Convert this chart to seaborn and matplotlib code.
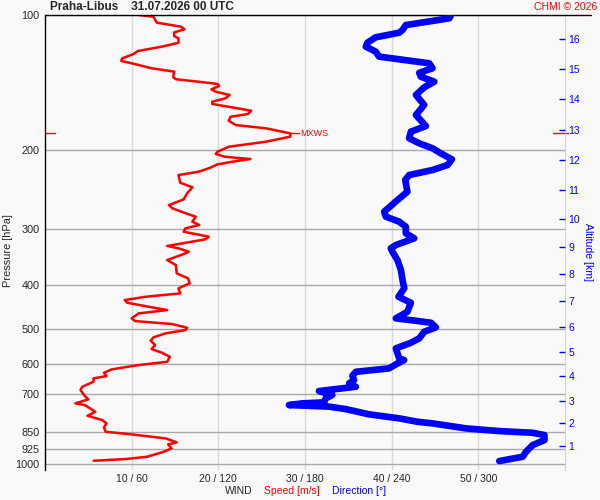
import matplotlib
matplotlib.use("Agg")
import matplotlib.pyplot as plt
from matplotlib.ticker import NullLocator, NullFormatter
import numpy as np
import seaborn as sns

# wind speed profile: pressure [hPa] and speed [m/s]
speed_pres = [100, 100.9, 104.0, 106.2, 107.6, 109.3, 111.4, 112.7, 115.3, 117.6,
              120.3, 122.2, 124.9, 126.6, 128.1, 131.4, 133.7, 137.6, 139.0, 140.8,
              142.4, 143.9, 146.4, 148.2, 150.7, 153.3, 156.0, 157.8, 160.6, 163.4,
              166.2, 168.5, 172.0, 175.8, 178.8, 183.5, 186.6, 191.5, 196.5, 201.6,
              204.0, 206.9, 209.3, 212.2, 215.1, 219.5, 223.4, 227.2, 236.3, 242.0,
              249.5, 257.4, 265.0, 269.5, 278.9, 281.3, 288.6, 293.5, 298.6, 303.8,
              311.7, 315.9, 326.9, 330.8, 336.6, 340.6, 351.3, 360.5, 376.1, 385.9,
              395.9, 406.2, 416.8, 424.1, 431.4, 437.4, 446.5, 454.1, 461.8, 473.8,
              480.4, 487.9, 497.2, 503.1, 511.7, 522.3, 531.5, 543.3, 554.6, 565.2,
              576.9, 591.9, 602.0, 615.4, 626.3, 636.8, 644.4, 655.6, 672.7, 684.2,
              705.6, 717.7, 732.6, 739.0, 764.8, 780.7, 798.1, 811.8, 828.6, 847.5,
              858.9, 876.7, 894.9, 904.1, 922.8, 939.0, 963.3, 974.7, 983.2]
speed = [10.8, 12.5, 12.9, 15.7, 16.1, 14.9, 14.9, 15.4, 15.4, 13.5,
         10.7, 10.2, 8.9, 8.8, 10.0, 12.3, 14.9, 14.8, 15.1, 17.7,
         19.9, 20.1, 19.2, 19.7, 21.3, 20.8, 19.3, 19.3, 21.6, 23.8,
         23.4, 21.4, 21.2, 22.0, 25.5, 28.3, 28.3, 25.5, 21.2, 19.9,
         19.7, 20.8, 23.7, 21.6, 19.9, 18.9, 17.7, 15.4, 15.6, 17.0,
         16.4, 16.0, 14.3, 14.7, 16.8, 17.4, 17.0, 17.8, 16.2, 16.0,
         18.9, 18.5, 14.1, 15.4, 16.6, 16.0, 14.1, 15.1, 15.2, 16.5,
         16.7, 15.4, 15.6, 11.6, 9.2, 9.5, 12.0, 14.1, 10.8, 10.0,
         10.4, 14.7, 16.4, 16.2, 13.9, 12.5, 12.2, 12.7, 12.3, 13.5,
         14.4, 14.1, 10.8, 7.7, 6.8, 7.1, 5.6, 5.6, 4.3, 4.1,
         4.6, 5.0, 3.5, 4.6, 5.8, 4.9, 6.6, 7.1, 6.8, 7.0,
         10.0, 13.9, 15.2, 14.2, 14.6, 13.7, 11.8, 9.3, 5.6]

# wind direction profile: pressure [hPa] and direction [deg]
dir_pres = [100, 101.7, 105.3, 108.0, 109.5, 112.1, 115.3, 117.6, 120.7, 123.8,
            125.5, 128.1, 131.4, 134.5, 137.2, 140.8, 144.9, 150.7, 158.6, 167.0,
            176.7, 181.9, 188.2, 193.1, 198.1, 203.3, 209.6, 215.8, 221.4, 227.2,
            233.1, 247.5, 258.3, 274.2, 281.3, 288.6, 296.1, 306.3, 314.3, 325.3,
            330.8, 336.6, 351.3, 369.8, 389.3, 406.2, 424.1, 437.4, 458.0, 473.8,
            479.7, 484.6, 496.2, 507.5, 524.9, 536.9, 552.6, 581.7, 586.8, 599.8,
            612.3, 623.1, 636.0, 650.1, 661.3, 672.7, 687.8, 702.0, 714.0, 728.9,
            732.6, 739.0, 744.9, 754.5, 775.1, 791.2, 805.2, 811.8, 832.9, 844.5,
            851.9, 862.0, 884.4, 907.4, 939.0, 963.3, 984.7]
direction = [281.1, 279.9, 249.8, 247.5, 245.2, 229.0, 223.2, 222.1, 229.0, 231.3,
             245.2, 266.0, 268.3, 259.1, 260.2, 269.5, 262.5, 256.8, 262.5, 256.8,
             263.7, 253.3, 252.1, 259.1, 268.3, 274.1, 281.7, 278.7, 268.3, 252.1,
             249.4, 250.9, 244.0, 234.8, 236.0, 245.2, 249.8, 249.8, 255.6, 242.9,
             239.4, 240.5, 244.0, 246.4, 247.5, 248.7, 244.7, 253.3, 250.9, 242.9,
             256.8, 267.2, 270.6, 262.5, 259.1, 253.3, 242.9, 245.2, 248.6, 242.9,
             238.2, 215.2, 212.8, 214.0, 210.5, 215.2, 189.7, 198.9, 194.3, 193.2,
             178.1, 168.9, 196.6, 208.2, 224.4, 245.2, 257.9, 268.3, 291.4, 314.5,
             337.6, 345.8, 345.8, 337.6, 333.0, 330.7, 314.5]

# altitude scale on the right: km and the pressure level where it sits
alt_km = [1, 2, 3, 4, 5, 6, 7, 8, 9, 10, 11, 12, 13, 14, 15, 16]
alt_pres = [912, 812, 723, 638, 564, 494, 434, 378, 329, 284, 245, 210, 180, 154, 132, 113]

p_ticks = [100, 200, 300, 400, 500, 600, 700, 850, 925, 1000]
x_ticks = [10, 20, 30, 40, 50]
x_labels = ["10 / 60", "20 / 120", "30 / 180", "40 / 240", "50 / 300"]

BG = "#f9f9f9"
RED = "#ff0000"
BLUE = "#0000ff"

sns.set_style("white")
plt.rcParams['font.family'] = ['Liberation Sans', 'DejaVu Sans']
plt.rcParams['font.size'] = 7.5

fig = plt.figure(figsize=(6, 5), dpi=100, facecolor=BG)
ax = fig.add_axes([45 / 600, 30 / 500, 520 / 600, 455 / 500], facecolor=BG)

# speed (bottom axis 0-60 m/s)
sns.lineplot(x=speed, y=speed_pres, orient="y", sort=False, estimator=None,
             color=RED, lw=1.8, ax=ax, zorder=3)
ax.set_yscale("log")
ax.set_ylim(1031, 100)
ax.set_xlim(0, 60)
ax.yaxis.set_minor_locator(NullLocator())
ax.yaxis.set_minor_formatter(NullFormatter())
ax.set_yticks(p_ticks)
ax.set_yticklabels([str(p) for p in p_ticks])
ax.set_xticks(x_ticks)
ax.set_xticklabels(x_labels)
ax.tick_params(axis="both", length=0, labelsize=7.5)
ax.tick_params(axis="y", pad=4, labelsize=7.8)
ax.tick_params(axis="x", pad=3)
ax.grid(axis="y", color="#a8a8a8", lw=1)
ax.grid(axis="x", color="#dadada", lw=1)
ax.set_xlabel("")
ax.set_ylabel("")
for s in ["top", "bottom"]:
    ax.spines[s].set_visible(False)
ax.spines["left"].set_color("black")
ax.spines["left"].set_linewidth(1)
ax.spines["right"].set_color("#d4d4d4")
ax.plot([0, 1.05], [1, 1], transform=ax.transAxes, color="black", lw=1, clip_on=False, zorder=5)

# direction (same frame, 0-360 deg)
ax2 = ax.twiny()
sns.lineplot(x=direction, y=dir_pres, orient="y", sort=False, estimator=None,
             color=BLUE, lw=4.8, solid_capstyle="round", solid_joinstyle="round", ax=ax2)
ax2.set_xlim(0, 360)
ax2.set_xticks([])
ax2.set_xlabel("")
for s in ax2.spines.values():
    s.set_visible(False)

# altitude axis
ax3 = ax.twinx()
ax3.set_yscale("log")
ax3.set_ylim(1031, 100)
ax3.yaxis.set_minor_locator(NullLocator())
ax3.yaxis.set_minor_formatter(NullFormatter())
ax3.set_yticks(alt_pres)
ax3.set_yticklabels([str(k) for k in alt_km])
ax3.tick_params(axis="y", colors=BLUE, direction="in", length=4.5, width=1, pad=2.5, labelsize=7.5)
for s in ax3.spines.values():
    s.set_visible(False)

# max wind marker
imax = int(np.argmax(speed))
pmax = speed_pres[imax]
ax.plot([speed[imax], speed[imax] + 1.0], [pmax, pmax], color=RED, lw=1, zorder=4)
ax.text(speed[imax] + 1.2, pmax, "MXWS", color=RED, fontsize=6.5, va="center", ha="left")
ytr = ax.get_yaxis_transform()
ax.plot([0, 0.02], [pmax, pmax], transform=ytr, color=RED, lw=1, clip_on=False)
ax.plot([0.977, 1.005], [pmax, pmax], transform=ytr, color=RED, lw=1, clip_on=False)

# texts
fig.text(50 / 600, 1 - 7 / 500, "Praha-Libus    31.07.2026 00 UTC", fontsize=8.5,
         fontweight="bold", ha="left", va="center")
fig.text(597 / 600, 1 - 7 / 500, "CHMI \u00a9 2026", color=RED, fontsize=7.5, ha="right", va="center")
fig.text(8 / 600, 1 - 251 / 500, "Pressure [hPa]", rotation=90, ha="center", va="center", fontsize=7.9)
fig.text(588 / 600, 1 - 252 / 500, "Altitude [km]", rotation=270, color=BLUE, ha="center",
         va="center", fontsize=7.6)
fig.text(225 / 600, 1 - 491 / 500, "WIND", ha="left", va="center", fontsize=7.5)
fig.text(264 / 600, 1 - 491 / 500, "Speed [m/s]", color=RED, ha="left", va="center", fontsize=7.5)
fig.text(332 / 600, 1 - 491 / 500, "Direction [\u00b0]", color=BLUE, ha="left", va="center", fontsize=7.5)

fig.savefig("out.png", dpi=100, facecolor=BG)
